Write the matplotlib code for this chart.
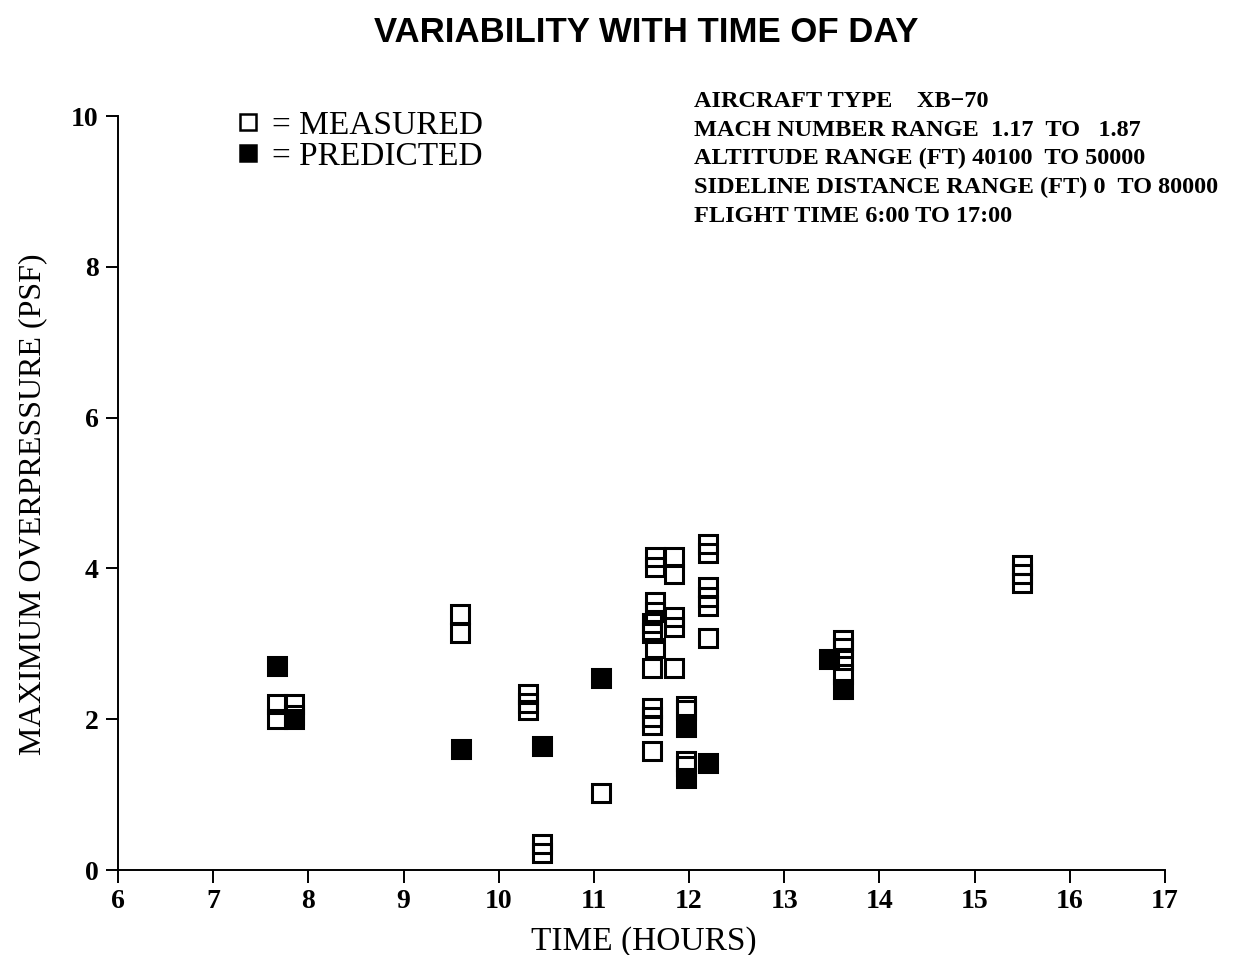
import matplotlib
matplotlib.use("Agg")
import matplotlib.pyplot as plt
from matplotlib.lines import Line2D

# Measured (open squares)
meas_x = [7.67, 7.67, 7.85, 7.85,
          9.59, 9.59,
          10.31, 10.31, 10.31,
          10.45, 10.45,
          11.07,
          11.64, 11.64, 11.84, 11.84,
          11.64, 11.64, 11.61, 11.61, 11.64, 11.61,
          11.84, 11.84, 11.84,
          11.61, 11.61, 11.61, 11.61,
          11.97, 11.97, 11.97, 11.97,
          12.20, 12.20, 12.20, 12.20, 12.20, 12.20,
          13.62, 13.62, 13.62, 13.62,
          15.50, 15.50, 15.50]
meas_y = [2.20, 2.00, 2.20, 2.05,
          3.40, 3.15,
          2.33, 2.22, 2.12,
          0.34, 0.22,
          1.02,
          4.15, 4.02, 4.15, 3.92,
          3.55, 3.42, 3.28, 3.15, 2.95, 2.68,
          3.35, 3.22, 2.68,
          2.15, 2.03, 1.92, 1.58,
          2.18, 2.12, 1.45, 1.38,
          4.32, 4.20, 3.75, 3.62, 3.50, 3.08,
          3.05, 2.95, 2.78, 2.60,
          4.05, 3.92, 3.80]

# Predicted (filled squares)
pred_x = [7.67, 7.85, 9.60, 10.45, 11.07, 11.97, 11.97, 12.20, 13.47, 13.62]
pred_y = [2.70, 2.00, 1.60, 1.65, 2.55, 1.90, 1.22, 1.42, 2.80, 2.40]

x_ticks = list(range(6, 18))
y_ticks = [0, 2, 4, 6, 8, 10]

title = "VARIABILITY WITH TIME OF DAY"
info_lines = ["AIRCRAFT TYPE    XB\u221270",
              "MACH NUMBER RANGE  1.17  TO   1.87",
              "ALTITUDE RANGE (FT) 40100  TO 50000",
              "SIDELINE DISTANCE RANGE (FT) 0  TO 80000",
              "FLIGHT TIME 6:00 TO 17:00"]

fig = plt.figure(figsize=(12.34, 9.55), dpi=100)
ax = fig.add_axes([0.0956, 0.089, 0.8485, 0.7895])

ms = 12.5
mew = 2.2
ax.plot(meas_x, meas_y, linestyle="none", marker="s", markersize=ms,
        markerfacecolor="none", markeredgecolor="black", markeredgewidth=mew,
        clip_on=False)
ax.plot(pred_x, pred_y, linestyle="none", marker="s", markersize=ms,
        markerfacecolor="black", markeredgecolor="black", markeredgewidth=mew,
        clip_on=False)

ax.set_xlim(6, 17)
ax.set_ylim(0, 10)
ax.set_xticks(x_ticks)
ax.set_yticks(y_ticks)
for s in ["top", "right"]:
    ax.spines[s].set_visible(False)
for s in ["left", "bottom"]:
    ax.spines[s].set_linewidth(1.4)
ax.tick_params(direction="out", length=9, width=1.4, pad=5)
for lab in ax.get_xticklabels() + ax.get_yticklabels():
    lab.set_fontfamily("Liberation Serif")
    lab.set_fontweight("bold")
    lab.set_fontsize(20)

ax.set_xlabel("TIME (HOURS)", family="Liberation Serif", fontsize=24)
ax.set_ylabel("MAXIMUM OVERPRESSURE (PSF)", family="Liberation Serif", fontsize=23)
ax.xaxis.set_label_coords(0.502, -0.075)
ax.yaxis.set_label_coords(-0.068, 0.485)

fig.text(0.524, 0.966, title, ha="center", va="center",
         family="Liberation Sans", fontweight="bold", fontsize=25)

h_open = Line2D([], [], linestyle="none", marker="s", markersize=11.5,
                markerfacecolor="none", markeredgecolor="black", markeredgewidth=1.8)
h_fill = Line2D([], [], linestyle="none", marker="s", markersize=11.5,
                markerfacecolor="black", markeredgecolor="black", markeredgewidth=1.8)
ax.legend([h_open, h_fill], ["= MEASURED", "= PREDICTED"], loc="upper left",
          bbox_to_anchor=(0.083, 1.047), frameon=False, handlelength=0.8,
          handletextpad=0.3, labelspacing=0.0,
          prop={"family": "Liberation Serif", "size": 24})

for i, line in enumerate(info_lines):
    fig.text(0.562, 0.894 - i * 0.0302, line, ha="left", va="center",
             family="Liberation Serif", fontweight="bold", fontsize=17.5)

fig.savefig("out.png", dpi=100)
